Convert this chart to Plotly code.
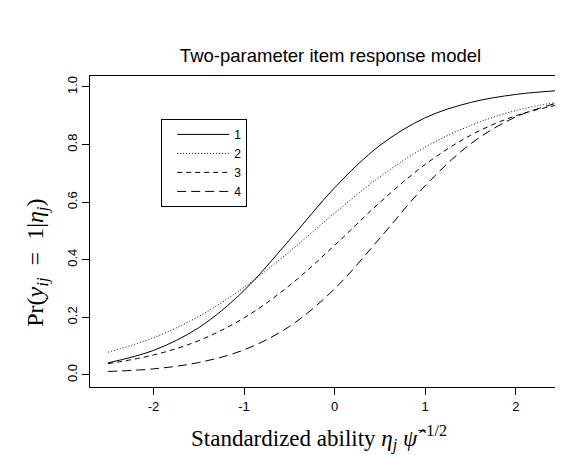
import plotly.graph_objects as go

# ability grid (x) and item characteristic values
ability = [-2.5, -2.0, -1.5, -1.0, -0.5, 0.0, 0.5, 1.0, 1.5, 2.0, 2.5]
item1 = [0.042, 0.085, 0.164, 0.293, 0.468, 0.650, 0.797, 0.893, 0.946, 0.974, 0.988]
item2 = [0.079, 0.129, 0.203, 0.304, 0.428, 0.562, 0.688, 0.791, 0.866, 0.918, 0.950]
item3 = [0.039, 0.069, 0.119, 0.198, 0.310, 0.450, 0.599, 0.731, 0.832, 0.900, 0.940]
item4 = [0.012, 0.021, 0.043, 0.087, 0.168, 0.299, 0.475, 0.657, 0.802, 0.896, 0.948]
names = ["1", "2", "3", "4"]
x_ticks = [-2, -1, 0, 1, 2]
y_ticks = [0.0, 0.2, 0.4, 0.6, 0.8, 1.0]

dashes = ["solid", "1px,2px", "5px,4px", "9px,5px"]
series = [item1, item2, item3, item4]

fig = go.Figure()
for nm, ys, d in zip(names, series, dashes):
    fig.add_trace(go.Scatter(x=ability, y=ys, mode="lines", name=nm,
                             line=dict(color="black", width=1, dash=d, shape="spline")))

sans = "Liberation Sans, Arial, sans-serif"
serif = "Liberation Serif, Times New Roman, serif"

fig.update_layout(
    width=563, height=455,
    margin=dict(l=82, r=0, t=68, b=76),
    paper_bgcolor="white", plot_bgcolor="white",
    title=dict(text="Two-parameter item response model", x=0.5, xref="paper",
               xanchor="center", y=0.895, yanchor="middle",
               font=dict(family=sans, size=18.5, color="black")),
    showlegend=True,
    legend=dict(x=0.148, y=0.862, xanchor="left", yanchor="top",
                bordercolor="black", borderwidth=1, bgcolor="white",
                font=dict(family=sans, size=12, color="black"),
                tracegroupgap=0, itemwidth=52, indentation=10,
                entrywidth=48, entrywidthmode="pixels"),
    xaxis=dict(range=[-2.7, 2.609], tickvals=x_ticks, ticktext=[str(v) for v in x_ticks],
               showgrid=False, zeroline=False, showline=True, mirror=True,
               linecolor="black", linewidth=1, ticks="outside", ticklen=7,
               tickcolor="black", tickfont=dict(family=sans, size=13, color="black")),
    yaxis=dict(range=[-0.042, 1.038], tickvals=y_ticks, tickformat=".1f",
               showgrid=False, zeroline=False, showline=True, mirror=False,
               linecolor="black", linewidth=1, ticks="outside", ticklen=7,
               tickcolor="black", tickangle=-90,
               tickfont=dict(family=sans, size=13, color="black")),
    annotations=[
        dict(text="Standardized ability <i>η<sub>j</sub></i> <i>ψ̂</i><sup>−1/2</sup>",
             xref="paper", yref="paper", x=0.476, y=-0.165,
             xanchor="center", yanchor="middle", showarrow=False,
             font=dict(family=serif, size=23, color="black")),
        dict(text="Pr(<i>y<sub>ij</sub></i>&nbsp;&nbsp;=&nbsp;&nbsp;1|<i>η<sub>j</sub></i>)",
             xref="paper", yref="paper", x=-0.112, y=0.40, textangle=-90,
             xanchor="center", yanchor="middle", showarrow=False,
             font=dict(family=serif, size=24, color="black")),
    ],
)

fig.write_html("out.html")
